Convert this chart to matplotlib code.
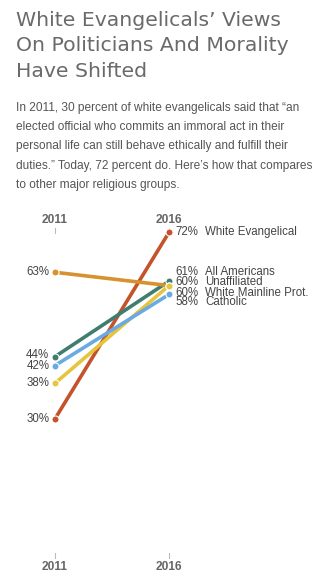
import matplotlib.pyplot as plt

# survey share saying an immoral official can still behave ethically
years = [2011, 2016]
groups = ['White Evangelical', 'All Americans', 'Unaffiliated', 'White Mainline Prot.', 'Catholic']
v2011 = [30, 44, 63, 38, 42]
v2016 = [72, 61, 60, 60, 58]
colors = ['#c4532c', '#3f7d70', '#d6922e', '#e6c53c', '#6aaae2']

# label positions nudged apart so the close 2016 values stay readable
right_label_y = [72, 63.1, 60.9, 58.4, 56.4]
left_label_y = {30: 30, 44: 44.3, 63: 63, 38: 38, 42: 42}

W, H = 328, 580
fig = plt.figure(figsize=(W / 100, H / 100), dpi=100)
fig.patch.set_facecolor('white')

fig.text(16 / W, 1 - 11 / H, 'White Evangelicals\u2019 Views\nOn Politicians And Morality\nHave Shifted',
         ha='left', va='top', fontsize=14.7, color='#6a6a6a', family='DejaVu Sans',
         linespacing=1.42)

fig.text(16 / W, 1 - 102 / H,
         'In 2011, 30 percent of white evangelicals said that \u201can\n'
         'elected official who commits an immoral act in their\n'
         'personal life can still behave ethically and fulfill their\n'
         'duties.\u201d Today, 72 percent do. Here\u2019s how that compares\n'
         'to other major religious groups.',
         ha='left', va='top', fontsize=8.6, color='#555555',
         family='Liberation Sans', linespacing=1.8)

x0, x1 = 55, 169
ybot, ytop = 552, 219
ax = fig.add_axes([x0 / W, (H - ybot) / H, (x1 - x0) / W, (ybot - ytop) / H])
ax.set_xlim(2011, 2016)
ax.set_ylim(0, 75)
ax.axis('off')

# draw in back-to-front order so the red line sits on top
order = [2, 3, 4, 1, 0]
for i in order:
    ax.plot(years, [v2011[i], v2016[i]], color=colors[i], lw=2.6,
            solid_capstyle='round', clip_on=False, zorder=2 + i * 0.1)
    ax.scatter(years, [v2011[i], v2016[i]], s=26, color=colors[i],
               edgecolors='white', linewidths=0.8, clip_on=False, zorder=3 + i * 0.1)

lab = dict(fontsize=8.3, color='#444444', family='Liberation Sans', va='center')
for i, g in enumerate(groups):
    ax.text(2016.3, right_label_y[i], f'{v2016[i]}%', ha='left', **lab)
    ax.text(2017.58, right_label_y[i], g, ha='left', **lab)
    ax.text(2010.75, left_label_y[v2011[i]], f'{v2011[i]}%', ha='right', **lab)

# year headers with small tick marks, top and bottom
for yr in years:
    ax.plot([yr, yr], [73.0, 71.9], color='#bbbbbb', lw=0.8, clip_on=False, zorder=1)
    ax.plot([yr, yr], [-0.2, -1.4], color='#bbbbbb', lw=0.8, clip_on=False, zorder=1)
    ax.text(yr, 74.8, str(yr), ha='center', va='center', fontsize=8.6,
            fontweight='bold', color='#666666', family='Liberation Sans')
    ax.text(yr, -3.3, str(yr), ha='center', va='center', fontsize=8.6,
            fontweight='bold', color='#666666', family='Liberation Sans')

fig.savefig('out.png', dpi=100, facecolor='white')
